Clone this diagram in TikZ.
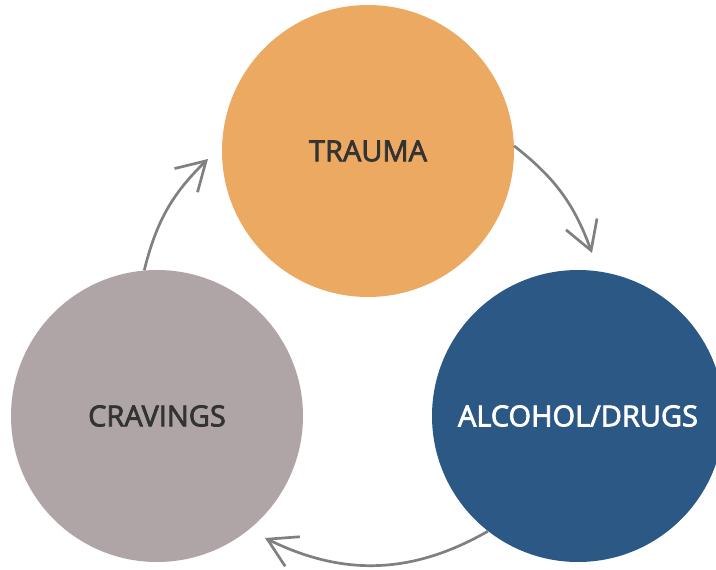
\documentclass[tikz,border=0pt]{standalone}
\usepackage{fontspec}
\setmainfont{Open Sans}
\newfontfamily\stagefont{Open Sans}[FakeBold=2.6]
\usetikzlibrary{arrows.meta}
\definecolor{traumaorange}{HTML}{EBA962}
\definecolor{drugsblue}{HTML}{2B5885}
\definecolor{cravegray}{HTML}{AFA5A6}
\definecolor{labeldark}{HTML}{333333}
\definecolor{cyclegray}{HTML}{808080}
\begin{document}
\begin{tikzpicture}[x=1pt,y=-1pt,
  stage/.style={circle,minimum size=292pt,inner sep=0pt,
    font=\stagefont\fontsize{29}{34}\selectfont},
  cycle/.style={draw=cyclegray,line width=2.7pt,
    -{Straight Barb[length=28pt,width=33pt,line width=2.7pt]}}]
  \useasboundingbox (0,0) rectangle (716,570);

  % three stages of the cycle
  \node[stage,fill=traumaorange,text=labeldark] (trauma) at (368,151) {TRAUMA};
  \node[stage,fill=drugsblue,text=white] (drugs) at (578,416) {ALCOHOL/DRUGS};
  \node[stage,fill=cravegray,text=labeldark] (cravings) at (157,416) {CRAVINGS};

  % arrow tips
  \coordinate (tipA) at (592,253);
  \coordinate (tipB) at (265,538);
  \coordinate (tipC) at (208,159);

  % clockwise connectors
  \draw[cycle] (trauma.2) to[bend left=16] (tipA);
  \draw[cycle] (drugs.-128) to[bend left=28] (tipB);
  \draw[cycle] (cravings.95) to[bend left=16] (tipC);
\end{tikzpicture}
\end{document}
